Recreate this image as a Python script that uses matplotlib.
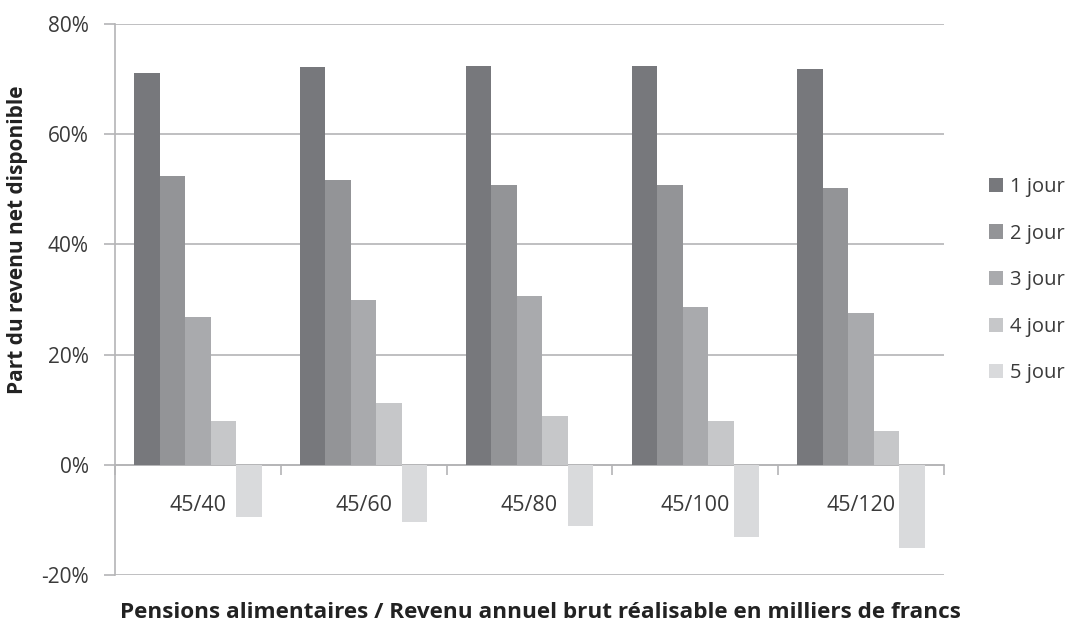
import matplotlib
matplotlib.use("Agg")
import matplotlib.pyplot as plt
import numpy as np
from matplotlib.ticker import FixedLocator, FuncFormatter

plt.rcParams['font.family'] = ['Open Sans', 'DejaVu Sans']

categories = ["45/40", "45/60", "45/80", "45/100", "45/120"]
series_names = ["1 jour", "2 jour", "3 jour", "4 jour", "5 jour"]
jour1 = [71.1, 72.2, 72.4, 72.4, 71.9]
jour2 = [52.5, 51.6, 50.7, 50.7, 50.3]
jour3 = [26.9, 30.0, 30.6, 28.6, 27.5]
jour4 = [7.9, 11.2, 8.8, 7.9, 6.1]
jour5 = [-9.5, -10.3, -11.1, -13.1, -15.1]
series = [jour1, jour2, jour3, jour4, jour5]
colors = ["#77787c", "#939497", "#a9aaad", "#c6c7c9", "#d9dadc"]
yticks = [-20, 0, 20, 40, 60, 80]

fig = plt.figure(figsize=(10.69, 6.27), dpi=100)
ax = fig.add_axes([115/1069, 1 - 575/627, (944 - 115)/1069, (575 - 24)/627])

n = len(series)
w = 1 / 6.5
x = np.arange(len(categories))
for i, (vals, name, c) in enumerate(zip(series, series_names, colors)):
    offs = (i - (n - 1) / 2) * w
    ax.bar(x + offs, vals, width=w, color=c, label=name, zorder=3, linewidth=0)

ax.set_xlim(-0.5, len(categories) - 0.5)
ax.set_ylim(-20, 80)

grid_c = "#b4b4b6"
txt_c = "#3a3a3a"
ax.yaxis.set_major_locator(FixedLocator(yticks))
ax.yaxis.set_major_formatter(FuncFormatter(lambda v, p: f"{v:.0f}%"))
ax.grid(axis='y', color=grid_c, linewidth=1.2, zorder=0)
ax.tick_params(axis='y', length=8, width=1.2, color=grid_c, labelsize=15, labelcolor=txt_c, pad=11)

for s in ['top', 'right']:
    ax.spines[s].set_visible(False)
ax.spines['left'].set_color(grid_c)
ax.spines['left'].set_linewidth(1.2)
ax.spines['bottom'].set_position(('data', 0))
ax.spines['bottom'].set_color(grid_c)
ax.spines['bottom'].set_linewidth(1.2)

ax.set_xticks(x)
ax.set_xticklabels(categories)
ax.set_xticks(np.arange(-0.5, len(categories)), minor=True)
ax.tick_params(axis='x', which='major', length=0, labelsize=15.5, labelcolor=txt_c, pad=22)
ax.tick_params(axis='x', which='minor', length=7, width=1.2, color=grid_c, direction='out')

fig.text(18 / 1069, 1 - 240 / 627, "Part du revenu net disponible", rotation=90,
         ha='center', va='center', fontsize=15, fontweight='bold', color="#222222")
fig.text(540 / 1069, 1 - 612 / 627,
         "Pensions alimentaires / Revenu annuel brut réalisable en milliers de francs",
         ha='center', va='center', fontsize=16.2, fontweight='bold', color="#222222")

leg = ax.legend(loc='upper left', bbox_to_anchor=(989/1069, 1 - 177/627), bbox_transform=fig.transFigure,
                frameon=False, fontsize=14.5, handlelength=0.7, handleheight=0.7, handletextpad=0.35,
                labelspacing=1.32, borderaxespad=0, borderpad=0)
for t in leg.get_texts():
    t.set_color(txt_c)

fig.savefig("out.png", dpi=100)
